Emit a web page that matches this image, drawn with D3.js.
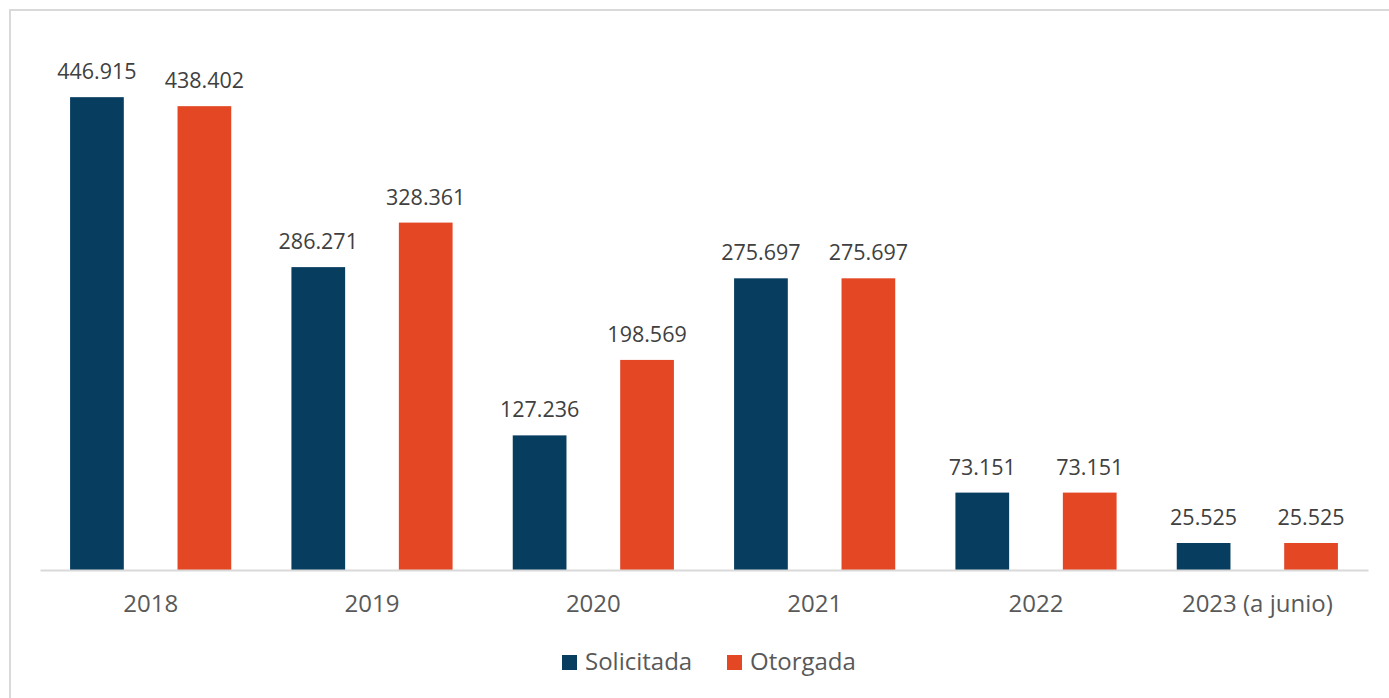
<!DOCTYPE html>
<html>
<head>
<meta charset="utf-8">
<script src="https://cdn.jsdelivr.net/npm/d3@7"></script>
<style>
  body { margin: 0; background: #fff; }
  text { font-family: "Open Sans", sans-serif; }
</style>
</head>
<body>
<svg id="chart"></svg>
<script>
// Data
const years = ['2018', '2019', '2020', '2021', '2022', '2023 (a junio)'];
const solicitada = [446915, 286271, 127236, 275697, 73151, 25525];
const otorgada = [438402, 328361, 198569, 275697, 73151, 25525];
const seriesNames = ['Solicitada', 'Otorgada'];
const seriesColors = ['#073d5f', '#e34724'];

const width = 1389, height = 698;
const margin = { top: 41, right: 21, bottom: 128, left: 40 };
const innerW = width - margin.left - margin.right;
const innerH = height - margin.top - margin.bottom;

const svg = d3.select('#chart')
    .attr('width', width)
    .attr('height', height);

// light frame around the chart area
svg.append('rect')
    .attr('x', 10).attr('y', 10)
    .attr('width', width).attr('height', height)
    .attr('fill', 'none')
    .attr('stroke', '#d9d9d9')
    .attr('stroke-width', 2);

const chart = svg.append('g')
    .attr('transform', `translate(${margin.left},${margin.top})`);

const x0 = d3.scaleBand()
    .domain(years)
    .range([0, innerW]);

const x1 = d3.scaleBand()
    .domain(seriesNames)
    .range([0, x0.bandwidth()])
    .paddingInner(0.5)
    .paddingOuter(0.28);

const y = d3.scaleLinear()
    .domain([0, 500000])
    .range([innerH, 0]);

const fmt = v => d3.format(',')(v).replace(/,/g, '.');

const rows = years.map((yr, i) => ({ year: yr, values: [solicitada[i], otorgada[i]] }));

const groups = chart.selectAll('.group')
    .data(rows)
  .join('g')
    .attr('class', 'group')
    .attr('transform', d => `translate(${x0(d.year)},0)`);

groups.selectAll('rect')
    .data(d => d.values.map((v, j) => ({ key: seriesNames[j], value: v, color: seriesColors[j] })))
  .join('rect')
    .attr('x', d => x1(d.key))
    .attr('y', d => y(d.value))
    .attr('width', x1.bandwidth())
    .attr('height', d => innerH - y(d.value))
    .attr('fill', d => d.color);

groups.selectAll('.val')
    .data(d => d.values.map((v, j) => ({ key: seriesNames[j], value: v })))
  .join('text')
    .attr('class', 'val')
    .attr('x', d => x1(d.key) + x1.bandwidth() / 2)
    .attr('y', d => y(d.value) - 18)
    .attr('text-anchor', 'middle')
    .attr('font-size', 21.5)
    .attr('fill', '#404040')
    .text(d => fmt(d.value));

// x axis
const xAxisG = chart.append('g')
    .attr('transform', `translate(0,${innerH})`)
    .call(d3.axisBottom(x0).tickSize(0).tickPadding(25));

xAxisG.select('.domain')
    .attr('stroke', '#d9d9d9')
    .attr('stroke-width', 2);

xAxisG.selectAll('text')
    .attr('font-size', 24)
    .attr('fill', '#595959')
    .style('font-family', '"Open Sans", sans-serif');

// legend
const legend = svg.append('g')
    .attr('transform', 'translate(562,662)');

const legendX = [0, 165];
seriesNames.forEach((name, i) => {
  const g = legend.append('g').attr('transform', `translate(${legendX[i]},0)`);
  g.append('rect')
      .attr('x', 0).attr('y', -7)
      .attr('width', 15).attr('height', 15)
      .attr('fill', seriesColors[i]);
  g.append('text')
      .attr('x', 23)
      .attr('y', 0)
      .attr('dy', '0.35em')
      .attr('font-size', 24)
      .attr('fill', '#595959')
      .text(name);
});
</script>
</body>
</html>
